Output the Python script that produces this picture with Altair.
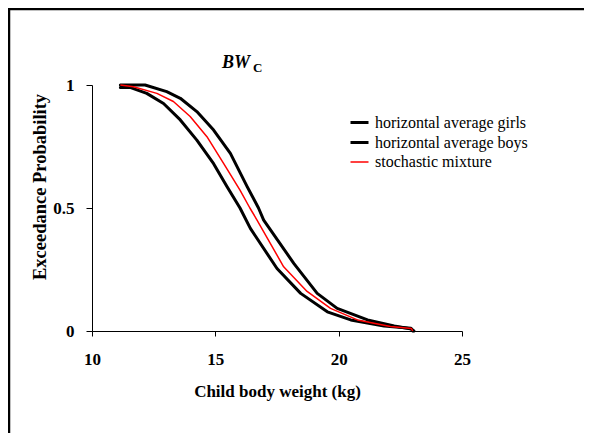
import altair as alt
import pandas as pd

# ---- data ----
series_names = ["horizontal average girls", "horizontal average boys", "stochastic mixture"]
series_colors = ["#000000", "#000000", "#ff0000"]
series_widths = [3, 3, 1.5]

girls_x = [11.15, 11.54, 12.22, 12.9, 13.58, 14.25, 14.93, 15.47, 16.0, 16.42, 17.5, 18.46, 19.54, 20.49, 21.84, 22.93, 23.0]
girls_p = [0.99, 0.99, 0.966, 0.925, 0.858, 0.776, 0.68, 0.587, 0.5, 0.417, 0.254, 0.153, 0.078, 0.045, 0.02, 0.011, 0.0]

boys_x = [11.15, 12.15, 13.03, 13.58, 14.25, 14.93, 15.61, 16.29, 16.75, 16.96, 18.18, 19.13, 19.94, 21.17, 22.25, 22.95, 23.05]
boys_p = [1.0, 1.0, 0.973, 0.946, 0.892, 0.817, 0.722, 0.587, 0.5, 0.451, 0.275, 0.153, 0.092, 0.045, 0.02, 0.008, 0.0]

mix_x = [11.15, 11.68, 12.63, 13.3, 13.98, 14.66, 15.34, 16.0, 16.4, 16.69, 17.77, 18.72, 19.67, 20.76, 22.1, 22.95, 23.0]
mix_p = [1.0, 0.993, 0.966, 0.933, 0.872, 0.79, 0.68, 0.573, 0.5, 0.451, 0.261, 0.161, 0.092, 0.045, 0.018, 0.01, 0.0]

x_ticks = [10, 15, 20, 25]
y_ticks = [0, 0.5, 1]

rows = []
for name, xs, ps in zip(series_names, [girls_x, boys_x, mix_x], [girls_p, boys_p, mix_p]):
    for xv, pv in zip(xs, ps):
        rows.append({"series": name, "weight": xv, "prob": pv})
df = pd.DataFrame(rows)

FONT = "Liberation Serif"
W, H = 370, 246
PAD_L, PAD_T, PAD_R, PAD_B = 84, 77, 122, 102

legend_def = dict(
    title=None, orient="none", legendX=257, legendY=27,
    symbolType="stroke", symbolSize=324, labelFont=FONT, labelFontSize=16,
    labelColor="black", labelOffset=5, rowPadding=1, padding=0,
)

color = alt.Color("series:N", scale=alt.Scale(domain=series_names, range=series_colors),
                  legend=alt.Legend(**legend_def))
swidth = alt.StrokeWidth("series:N",
                         scale=alt.Scale(type="ordinal", domain=series_names, range=series_widths),
                         legend=alt.Legend(**legend_def))

x_enc = alt.X("weight:Q", scale=alt.Scale(domain=[10, 25], nice=False, zero=False),
              axis=alt.Axis(values=x_ticks, title="Child body weight (kg)", grid=False, labelFlush=False,
                            tickSize=5, labelPadding=15, labelFontSize=17, labelFontWeight="bold",
                            labelFont=FONT, titleFont=FONT, labelAlign="center",
                            titleFontSize=17, titleFontWeight="bold", titleY=65, titleX=W / 2,
                            titleBaseline="alphabetic", titleAlign="center"))
y_enc = alt.Y("prob:Q", scale=alt.Scale(domain=[0, 1], nice=False),
              axis=alt.Axis(values=y_ticks, format="~g", title="Exceedance Probability", grid=False,
                            labelFlush=False, labelFont=FONT, titleFont=FONT,
                            labelAlign="right", labelBaseline="middle",
                            tickSize=6, labelPadding=12, labelFontSize=17, labelFontWeight="bold",
                            titleFontSize=18.5, titleFontWeight="bold", titleX=-47, titleY=101.5,
                            titleAngle=270, titleBaseline="alphabetic", titleAlign="center"))

base = alt.Chart(df)
black_lines = base.transform_filter(
    alt.FieldOneOfPredicate(field="series", oneOf=series_names[:2])
).mark_line(strokeCap="round", strokeJoin="round").encode(
    x=x_enc, y=y_enc, color=color, strokeWidth=swidth, detail="series:N")
red_line = base.transform_filter(
    alt.FieldEqualPredicate(field="series", equal=series_names[2])
).mark_line(strokeJoin="round").encode(
    x=x_enc, y=y_enc, color=color, strokeWidth=swidth, detail="series:N")

one = pd.DataFrame({"k": [0]})
title_bw = alt.Chart(one).mark_text(font=FONT, fontSize=18, fontWeight="bold", fontStyle="italic",
                                    align="left", baseline="alphabetic", color="black").encode(
    x=alt.value(130), y=alt.value(-17), text=alt.value("BW"))
title_c = alt.Chart(one).mark_text(font=FONT, fontSize=13, fontWeight="bold",
                                   align="left", baseline="alphabetic", color="black").encode(
    x=alt.value(161), y=alt.value(-13), text=alt.value("C"))

frame_top = alt.Chart(one).mark_rule(color="black", strokeWidth=2.5).encode(
    x=alt.value(-PAD_L), x2=alt.value(W + PAD_R), y=alt.value(-PAD_T + 1))
frame_left = alt.Chart(one).mark_rule(color="black", strokeWidth=2.5).encode(
    x=alt.value(-PAD_L + 1), y=alt.value(-PAD_T), y2=alt.value(H + PAD_B))

chart = alt.layer(black_lines, red_line, title_bw, title_c, frame_top, frame_left).properties(
    width=W, height=H,
    autosize=alt.AutoSizeParams(type="none"),
    padding={"left": PAD_L, "top": PAD_T, "right": PAD_R, "bottom": PAD_B},
    background="white",
).configure_view(stroke=None).configure_axis(
    domainColor="black", tickColor="black", labelColor="black", titleColor="black",
    labelFont=FONT, titleFont=FONT, domainWidth=1, tickWidth=1,
)

chart.save("out.html", embed_options={"renderer": "svg", "actions": False})
